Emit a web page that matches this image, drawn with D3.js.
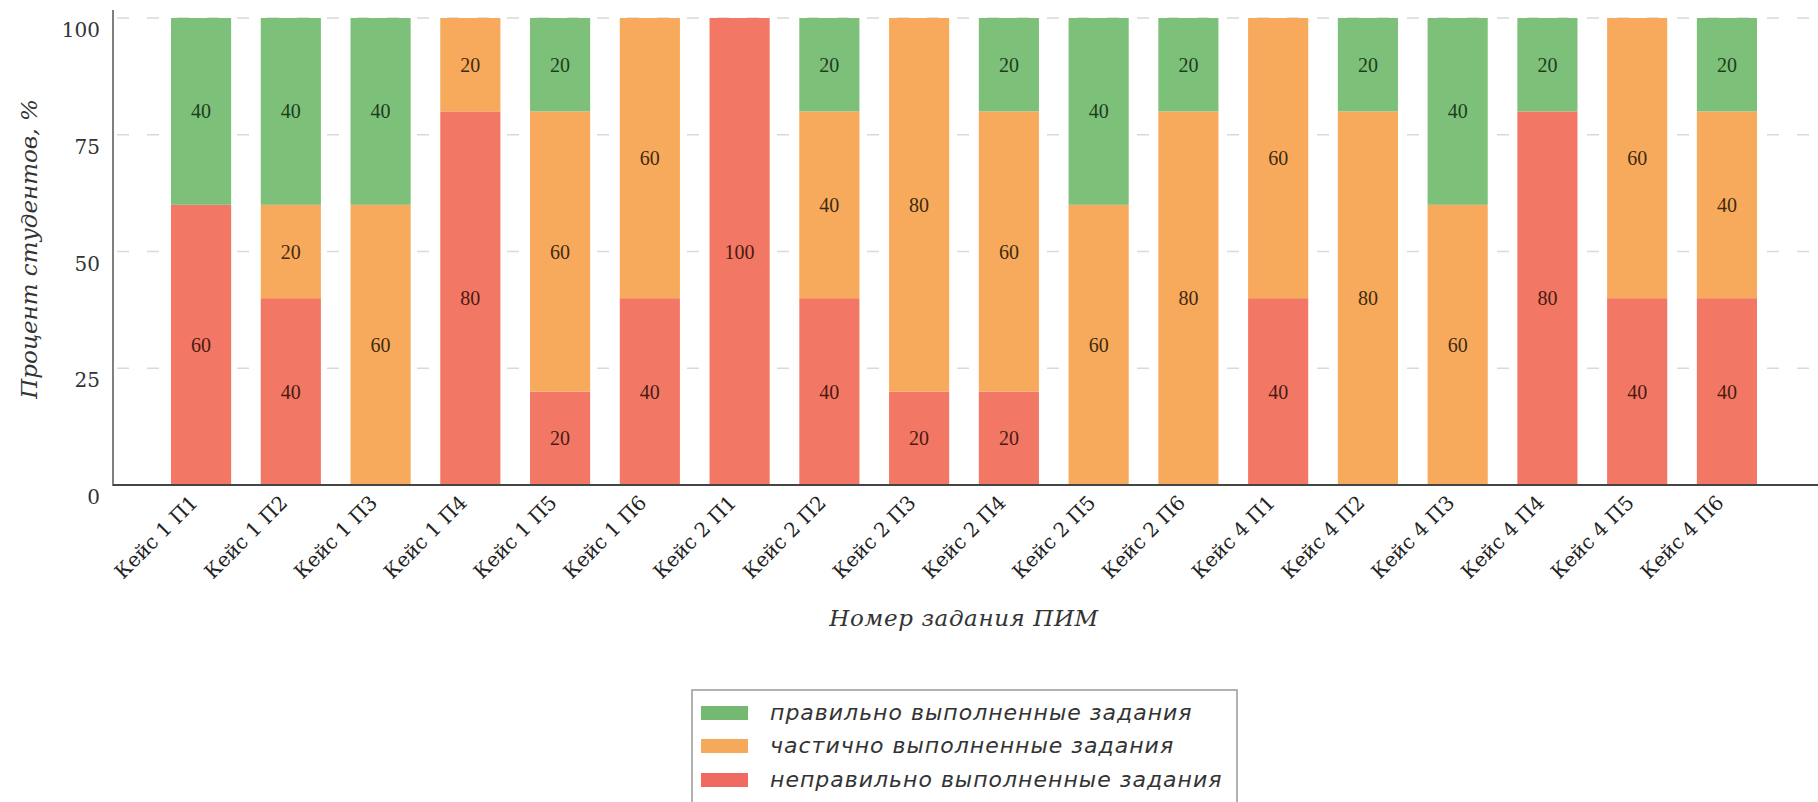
<!DOCTYPE html>
<html>
<head>
<meta charset="utf-8">
<script src="https://cdn.jsdelivr.net/npm/d3@7"></script>
<style>
  html, body { margin: 0; padding: 0; background: #fff; }
  svg { display: block; }
</style>
</head>
<body>
<svg id="chart" width="1818" height="802"></svg>
<script>
const categories = [
  "Кейс 1 П1", "Кейс 1 П2", "Кейс 1 П3", "Кейс 1 П4", "Кейс 1 П5", "Кейс 1 П6",
  "Кейс 2 П1", "Кейс 2 П2", "Кейс 2 П3", "Кейс 2 П4", "Кейс 2 П5", "Кейс 2 П6",
  "Кейс 4 П1", "Кейс 4 П2", "Кейс 4 П3", "Кейс 4 П4", "Кейс 4 П5", "Кейс 4 П6"
];
const correct   = [40, 40, 40, 0, 20, 0, 0, 20, 0, 20, 40, 20, 0, 20, 40, 20, 0, 20];
const partial   = [0, 20, 60, 20, 60, 60, 0, 40, 80, 60, 60, 80, 60, 80, 60, 0, 60, 40];
const incorrect = [60, 40, 0, 80, 20, 40, 100, 40, 20, 20, 0, 0, 40, 0, 0, 80, 40, 40];
const yTicks = [0, 25, 50, 75, 100];
const seriesNames = ["неправильно выполненные задания", "частично выполненные задания", "правильно выполненные задания"];
const legendOrder = ["правильно выполненные задания", "частично выполненные задания", "неправильно выполненные задания"];

const colors = {
  "правильно выполненные задания": "#7dc07a",
  "частично выполненные задания": "#f8aa5c",
  "неправильно выполненные задания": "#f27865"
};
const labelColors = {
  "правильно выполненные задания": "#1e3d1c",
  "частично выполненные задания": "#3f2a12",
  "неправильно выполненные задания": "#4a1a12"
};
const legendColors = {
  "правильно выполненные задания": "#74b872",
  "частично выполненные задания": "#f6a95a",
  "неправильно выполненные задания": "#f06a62"
};

const svg = d3.select("#chart");
const axisX = 113, baseY = 485;

const x = d3.scaleBand().domain(categories).range([171, 1757]).paddingInner(0.33).paddingOuter(0);
const y = d3.scaleLinear().domain([0, 100]).range([baseY, 18]);

const table = categories.map((c, i) => ({
  cat: c,
  "неправильно выполненные задания": incorrect[i],
  "частично выполненные задания": partial[i],
  "правильно выполненные задания": correct[i]
}));
const stacked = d3.stack().keys(seriesNames)(table);

// gridlines
svg.append("g").selectAll("line").data(yTicks.filter(t => t > 0)).join("line")
  .attr("x1", axisX).attr("x2", 1818)
  .attr("y1", d => y(d)).attr("y2", d => y(d))
  .attr("stroke", "#d9d9d9").attr("stroke-width", 1.5)
  .attr("stroke-dasharray", "12,18").attr("stroke-dashoffset", -4);

// bars
const layers = svg.append("g").selectAll("g").data(stacked).join("g")
  .attr("fill", d => colors[d.key]);
layers.selectAll("rect").data(d => d.map(v => ({ v, key: d.key }))).join("rect")
  .attr("x", d => x(d.v.data.cat))
  .attr("width", x.bandwidth())
  .attr("y", d => y(d.v[1]))
  .attr("height", d => y(d.v[0]) - y(d.v[1]));

// bar labels
const lab = svg.append("g");
stacked.forEach(layer => {
  layer.forEach(v => {
    const val = v[1] - v[0];
    if (val > 0) {
      lab.append("text")
        .attr("x", x(v.data.cat) + x.bandwidth() / 2)
        .attr("y", y((v[0] + v[1]) / 2))
        .attr("dy", "0.35em")
        .attr("text-anchor", "middle")
        .attr("font-family", "Liberation Serif")
        .attr("font-size", 20)
        .attr("fill", labelColors[layer.key])
        .text(val);
    }
  });
});

// axes lines
svg.append("line").attr("x1", axisX).attr("x2", axisX).attr("y1", 10).attr("y2", baseY + 1)
  .attr("stroke", "#555").attr("stroke-width", 1.5);
svg.append("line").attr("x1", axisX).attr("x2", 1818).attr("y1", baseY).attr("y2", baseY)
  .attr("stroke", "#444").attr("stroke-width", 2);

// y tick labels
svg.append("g").selectAll("text").data(yTicks).join("text")
  .attr("x", 100).attr("y", d => y(d) + 12).attr("dy", "0.35em")
  .attr("text-anchor", "end")
  .attr("font-family", "DejaVu Serif").attr("font-size", 20).attr("fill", "#333")
  .text(d => d);

// x tick labels
svg.append("g").selectAll("text").data(categories).join("text")
  .attr("transform", d => `translate(${x(d) + x.bandwidth() / 2 - 2},${baseY + 19}) rotate(-45)`)
  .attr("text-anchor", "end")
  .attr("font-family", "DejaVu Serif").attr("font-size", 20).attr("fill", "#222")
  .text(d => d);

// axis titles
svg.append("text")
  .attr("transform", "translate(37,249) rotate(-90)")
  .attr("text-anchor", "middle")
  .attr("font-family", "DejaVu Serif").attr("font-style", "italic")
  .attr("font-size", 23).attr("fill", "#333")
  .text("Процент студентов, %");

svg.append("text")
  .attr("x", 964).attr("y", 626)
  .attr("text-anchor", "middle")
  .attr("font-family", "DejaVu Serif").attr("font-style", "italic")
  .attr("font-size", 23).attr("letter-spacing", 0.6).attr("fill", "#333")
  .text("Номер задания ПИМ");

// legend
const lg = svg.append("g");
lg.append("rect").attr("x", 692).attr("y", 690).attr("width", 545).attr("height", 130)
  .attr("fill", "#fff").attr("stroke", "#999").attr("stroke-width", 1.5);
const rowsY = [713, 746, 780];
legendOrder.forEach((k, i) => {
  lg.append("rect").attr("x", 701).attr("y", rowsY[i] - 7).attr("width", 47).attr("height", 14)
    .attr("fill", legendColors[k]);
  lg.append("text").attr("x", 770).attr("y", rowsY[i] + 7)
    .attr("font-family", "DejaVu Sans").attr("font-style", "italic")
    .attr("font-size", 22).attr("letter-spacing", 1).attr("fill", "#333")
    .text(k);
});
</script>
</body>
</html>
